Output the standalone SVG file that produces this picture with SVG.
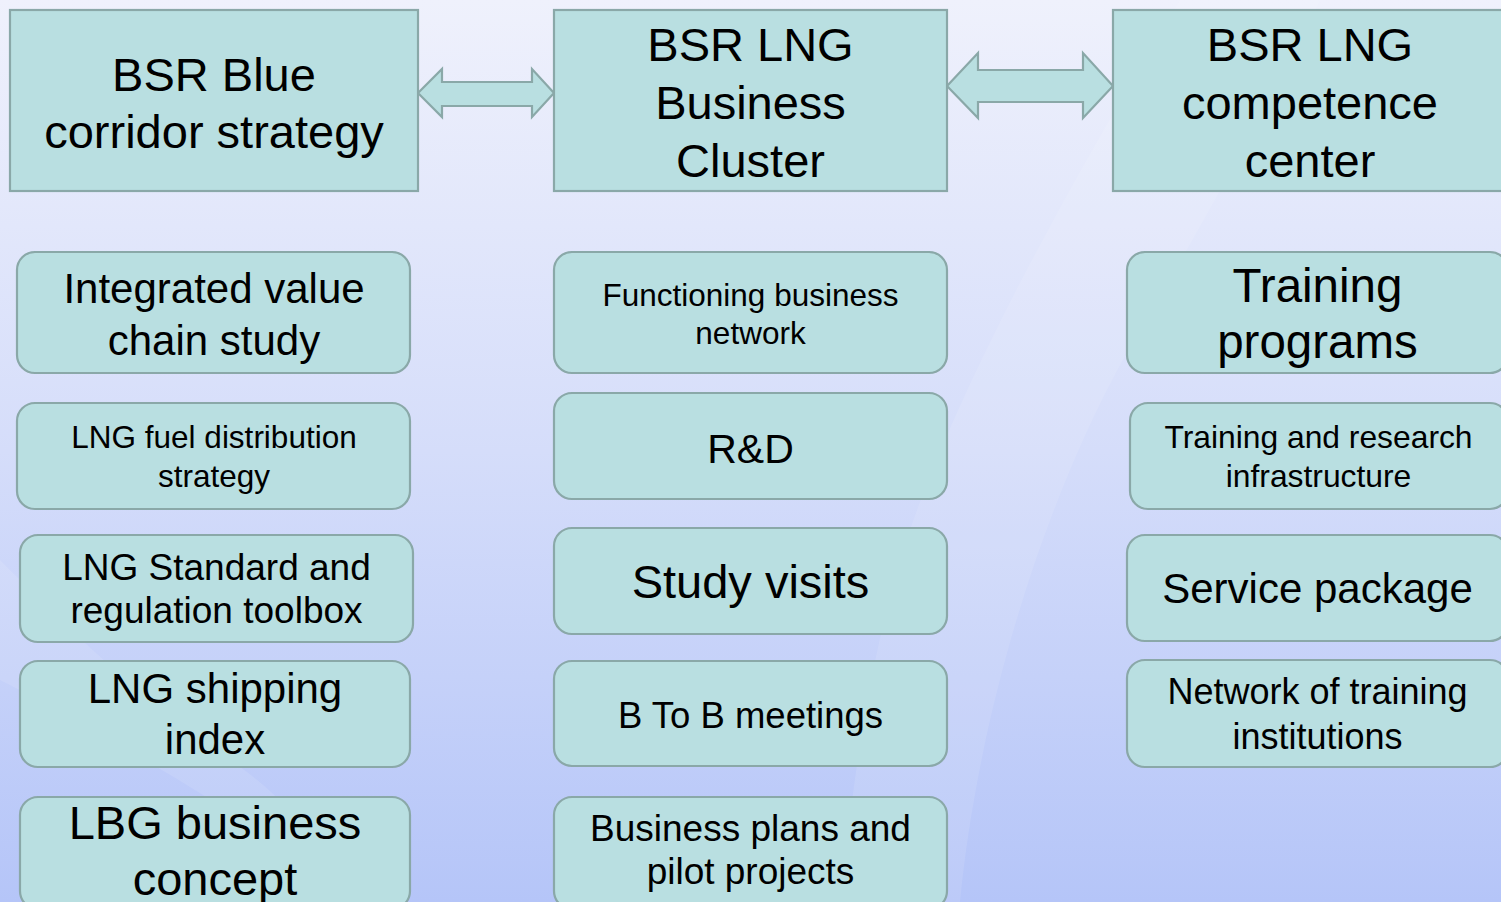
<svg xmlns="http://www.w3.org/2000/svg" width="1501" height="902" viewBox="0 0 1501 902">
  <defs>
    <linearGradient id="bg" x1="0" y1="0" x2="0" y2="1">
      <stop offset="0" stop-color="#eff1fc"/>
      <stop offset="0.5" stop-color="#d5ddfa"/>
      <stop offset="1" stop-color="#b5c5f8"/>
    </linearGradient>
    <style>
      .box { fill: #b9dfe1; stroke: #8aa8a8; stroke-width: 2.2; }
      .arrow { fill: #b9dfe1; stroke: #8aa8a8; stroke-width: 2.2; stroke-linejoin: miter; }
      .t { font-family: "Liberation Sans", Arial, sans-serif; text-anchor: middle; fill: #000; }
      .swoosh { fill: #ffffff; opacity: 0.1; }
    </style>
  </defs>

  <rect x="0" y="0" width="1501" height="902" fill="url(#bg)"/>
  <path class="swoosh" d="M1180,0 C1060,200 950,400 900,560 C860,700 850,820 840,902 L960,902 C980,700 1050,480 1140,330 C1200,230 1260,120 1320,0 Z"/>
  <path class="swoosh" d="M0,560 C60,620 140,700 230,760 C260,780 280,800 300,820 L260,830 C180,780 80,720 0,680 Z"/>

  <g id="connectors">
    <path class="arrow" d="M418,93 L442,69 L442,82 L532,82 L532,69 L554,93 L532,117 L532,106 L442,106 L442,117 Z"/>
    <path class="arrow" d="M947,86 L978,53 L978,70 L1083,70 L1083,53 L1113,86 L1083,118 L1083,102 L978,102 L978,118 Z"/>
  </g>

  <g id="n-blue-corridor">
    <rect class="box" x="10" y="10" width="408" height="181"/>
    <text class="t" font-size="47" x="214" y="91">BSR Blue</text>
    <text class="t" font-size="47" x="214" y="148">corridor strategy</text>
  </g>
  <g id="n-business-cluster">
    <rect class="box" x="554" y="10" width="393" height="181"/>
    <text class="t" font-size="47" x="750.5" y="61">BSR LNG</text>
    <text class="t" font-size="47" x="750.5" y="119">Business</text>
    <text class="t" font-size="47" x="750.5" y="177">Cluster</text>
  </g>
  <g id="n-competence-center">
    <rect class="box" x="1113" y="10" width="395" height="181"/>
    <text class="t" font-size="47" x="1310" y="61">BSR LNG</text>
    <text class="t" font-size="47" x="1310" y="119">competence</text>
    <text class="t" font-size="47" x="1310" y="177">center</text>
  </g>

  <g id="n-value-chain">
    <rect class="box" x="17" y="252" width="393" height="121" rx="18"/>
    <text class="t" font-size="42" x="214" y="303">Integrated value</text>
    <text class="t" font-size="42" x="214" y="355">chain study</text>
  </g>
  <g id="n-fuel-distribution">
    <rect class="box" x="17" y="403" width="393" height="106" rx="18"/>
    <text class="t" font-size="31.5" x="214" y="448">LNG fuel distribution</text>
    <text class="t" font-size="31.5" x="214" y="487">strategy</text>
  </g>
  <g id="n-standard-toolbox">
    <rect class="box" x="20" y="535" width="393" height="107" rx="18"/>
    <text class="t" font-size="37" x="216.5" y="580">LNG Standard and</text>
    <text class="t" font-size="37" x="216.5" y="623">regulation toolbox</text>
  </g>
  <g id="n-shipping-index">
    <rect class="box" x="20" y="661" width="390" height="106" rx="18"/>
    <text class="t" font-size="42" x="215" y="703">LNG shipping</text>
    <text class="t" font-size="42" x="215" y="754">index</text>
  </g>
  <g id="n-lbg-concept">
    <rect class="box" x="20" y="797" width="390" height="112" rx="18"/>
    <text class="t" font-size="47" x="215" y="838.5">LBG business</text>
    <text class="t" font-size="47" x="215" y="895">concept</text>
  </g>

  <g id="n-business-network">
    <rect class="box" x="554" y="252" width="393" height="121" rx="18"/>
    <text class="t" font-size="31.5" x="750.5" y="306">Functioning business</text>
    <text class="t" font-size="31.5" x="750.5" y="344">network</text>
  </g>
  <g id="n-rnd">
    <rect class="box" x="554" y="393" width="393" height="106" rx="18"/>
    <text class="t" font-size="41" x="750.5" y="463">R&amp;D</text>
  </g>
  <g id="n-study-visits">
    <rect class="box" x="554" y="528" width="393" height="106" rx="18"/>
    <text class="t" font-size="47" x="750.5" y="598">Study visits</text>
  </g>
  <g id="n-b2b">
    <rect class="box" x="554" y="661" width="393" height="105" rx="18"/>
    <text class="t" font-size="36.5" x="750.5" y="728">B To B meetings</text>
  </g>
  <g id="n-business-plans">
    <rect class="box" x="554" y="797" width="393" height="112" rx="18"/>
    <text class="t" font-size="37" x="750.5" y="841">Business plans and</text>
    <text class="t" font-size="37" x="750.5" y="884">pilot projects</text>
  </g>

  <g id="n-training-programs">
    <rect class="box" x="1127" y="252" width="381" height="121" rx="18"/>
    <text class="t" font-size="47.5" x="1317.5" y="302">Training</text>
    <text class="t" font-size="47.5" x="1317.5" y="358">programs</text>
  </g>
  <g id="n-research-infrastructure">
    <rect class="box" x="1130" y="403" width="378" height="106" rx="18"/>
    <text class="t" font-size="31.8" x="1318.5" y="448">Training and research</text>
    <text class="t" font-size="31.8" x="1318.5" y="487">infrastructure</text>
  </g>
  <g id="n-service-package">
    <rect class="box" x="1127" y="535" width="381" height="106" rx="18"/>
    <text class="t" font-size="42" x="1317.5" y="603">Service package</text>
  </g>
  <g id="n-training-network">
    <rect class="box" x="1127" y="660" width="381" height="107" rx="18"/>
    <text class="t" font-size="36" x="1317.5" y="704">Network of training</text>
    <text class="t" font-size="36" x="1317.5" y="749">institutions</text>
  </g>
</svg>
